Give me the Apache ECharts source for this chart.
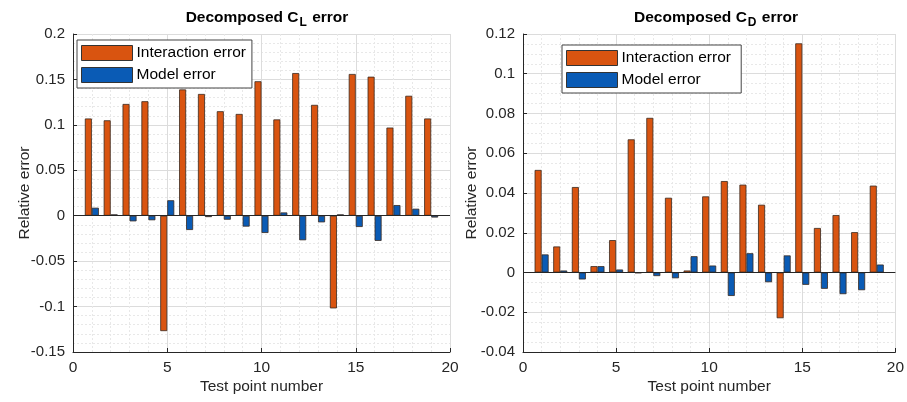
<!DOCTYPE html>
<html>
<head>
<meta charset="utf-8">
<script src="https://cdn.jsdelivr.net/npm/echarts@6/dist/echarts.min.js"></script>
<style>html,body{margin:0;padding:0;background:#fff;}#c{width:907px;height:402px;}</style>
</head>
<body>
<div id="c"></div>
<script>
const testPoints = [1,2,3,4,5,6,7,8,9,10,11,12,13,14,15,16,17,18,19];
const clInteraction = [0.107,0.105,0.123,0.126,-0.127,0.139,0.134,0.115,0.112,0.148,0.106,0.157,0.122,-0.102,0.156,0.153,0.097,0.132,0.107];
const clModel = [0.0088,0.0015,-0.0062,-0.005,0.017,-0.0157,-0.0015,-0.0044,-0.012,-0.019,0.0036,-0.027,-0.0073,0.0015,-0.0124,-0.0277,0.0117,0.0077,-0.002];
const cdInteraction = [0.0516,0.0131,0.043,0.0032,0.0163,0.067,0.0778,0.0376,0.001,0.0383,0.046,0.0442,0.0341,-0.023,0.1153,0.0224,0.0289,0.0203,0.0437];
const cdModel = [0.0091,0.001,-0.0035,0.0032,0.0015,-0.0003,-0.0018,-0.0029,0.0082,0.0035,-0.0118,0.0097,-0.0049,0.0086,-0.0062,-0.0082,-0.0109,-0.0089,0.004];
const seriesNames = ['Interaction error','Model error'];

const FONT = 'Liberation Sans, Arial, sans-serif';
const TXT = '#262626';
const ORANGE = '#D95410';
const BLUE = '#0A5BB5';

function pairs(xs, ys){ return xs.map((x,i)=>[x, ys[i]]); }
const fmt = v => String(+v.toFixed(4));

function xAx(gi){
  return {
    type:'value', gridIndex:gi, min:0, max:20, interval:5,
    name:'Test point number', nameLocation:'middle', nameGap:27, nameMoveOverlap:false,
    nameTextStyle:{fontFamily:FONT, fontSize:15.5, color:TXT},
    axisLine:{show:true, onZero:false, lineStyle:{color:TXT, width:1}},
    axisTick:{show:true, inside:true, length:4, lineStyle:{color:TXT}},
    minorTick:{show:false, splitNumber:5},
    axisLabel:{fontFamily:FONT, fontSize:15.5, color:TXT, margin:8, formatter:fmt},
    splitLine:{show:true, lineStyle:{color:'#dcdcdc', width:1}},
    minorSplitLine:{show:true, lineStyle:{color:'#e8e8e8', width:1, type:[2,2]}}
  };
}
function yAx(gi, min, max, interval, split, gap){
  return {
    type:'value', gridIndex:gi, min:min, max:max, interval:interval,
    name:'Relative error', nameLocation:'middle', nameGap:gap, nameMoveOverlap:false,
    nameTextStyle:{fontFamily:FONT, fontSize:15.5, color:TXT},
    axisLine:{show:true, onZero:false, lineStyle:{color:TXT, width:1}},
    axisTick:{show:true, inside:true, length:4, lineStyle:{color:TXT}},
    minorTick:{show:false, splitNumber:split},
    axisLabel:{fontFamily:FONT, fontSize:15, color:TXT, margin:8, formatter:fmt},
    splitLine:{show:true, lineStyle:{color:'#dcdcdc', width:1}},
    minorSplitLine:{show:true, lineStyle:{color:'#e8e8e8', width:1, type:[2,2]}}
  };
}
function barSeries(name, data, color, gi, withBase){
  const s = {
    type:'bar', name:name, xAxisIndex:gi, yAxisIndex:gi, data:data,
    barWidth:7, barGap:'0%',
    itemStyle:{color:color, borderColor:'#3a2a20', borderWidth:0.8},
    emphasis:{disabled:true}, animation:false
  };
  if(withBase){
    s.markLine = {silent:true, symbol:'none', label:{show:false},
      lineStyle:{color:TXT, width:1, type:'solid'}, data:[{yAxis:0}], animation:false};
  }
  return s;
}
function titleOf(sub, cx){
  return {
    text:'{a|Decomposed C}{s|' + sub + '}{a| error}',
    left:cx, top:2, textAlign:'center',
    textStyle:{rich:{
      a:{fontFamily:FONT, fontSize:15.5, fontWeight:'bold', color:'#000'},
      s:{fontFamily:FONT, fontSize:12, fontWeight:'bold', color:'#000', padding:[10,1,0,1]}
    }}
  };
}
function legendOf(gi, left, top){
  return {
    show:true, orient:'vertical', left:left, top:top,
    data:[
      {name:seriesNames[0] + (gi? ' ' : ''), itemStyle:{color:ORANGE, borderColor:'#333', borderWidth:1}},
      {name:seriesNames[1] + (gi? ' ' : ''), itemStyle:{color:BLUE, borderColor:'#333', borderWidth:1}}
    ],
    itemWidth:51, itemHeight:15, itemGap:6,
    padding:[5,6,5,4], borderColor:'#444', borderWidth:1, backgroundColor:'#fff',
    textStyle:{fontFamily:FONT, fontSize:15.5, color:'#000', padding:[0,0,0,-1]},
    selectedMode:false, icon:'rect'
  };
}

const chart = echarts.init(document.getElementById('c'), null, {renderer:'canvas'});
chart.setOption({
  animation:false,
  backgroundColor:'#fff',
  title:[titleOf('L', 262), titleOf('D', 711)],
  legend:[legendOf(0, 77, 40), legendOf(1, 562, 45)],
  grid:[
    {left:73, right:907-450, top:34, bottom:50},
    {left:523, right:907-897, top:34, bottom:50}
  ],
  xAxis:[xAx(0), xAx(1)],
  yAxis:[yAx(0, -0.15, 0.2, 0.05, 5, 40), yAx(1, -0.04, 0.12, 0.02, 4, 43)],
  series:[
    barSeries(seriesNames[0], pairs(testPoints, clInteraction), ORANGE, 0, true),
    barSeries(seriesNames[1], pairs(testPoints, clModel), BLUE, 0, false),
    barSeries(seriesNames[0] + ' ', pairs(testPoints, cdInteraction), ORANGE, 1, true),
    barSeries(seriesNames[1] + ' ', pairs(testPoints, cdModel), BLUE, 1, false)
  ]
});
</script>
</body>
</html>
